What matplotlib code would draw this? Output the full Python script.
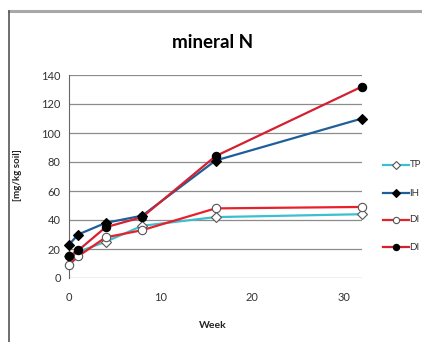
import numpy as np
from matplotlib import pyplot as plt
from matplotlib.lines import Line2D

weeks = [0, 1, 4, 8, 16, 32]
tp = [15, 18, 25, 36, 42, 44]
ih = [23, 30, 38, 43, 81, 110]
di_open = [9, 15, 28, 33, 48, 49]
di_fill = [15, 19, 35, 42, 84, 132]
labels = ['TP', 'IH', 'DI', 'DI']

plt.rcParams['font.family'] = ['Lato', 'DejaVu Sans']

fig = plt.figure(figsize=(4.22, 3.42), dpi=100)
ax = fig.add_axes([69/422, 1-278/342, 293/422, 203/342])

# screenshot frame
fig.add_artist(Line2D([9/422, 1], [1-11/342, 1-11/342], color='#a8a8a8', lw=2.2))
fig.add_artist(Line2D([9/422, 9/422], [0, 1-11/342], color='#555555', lw=1.2))

series = [
  (tp, '#3cc0d0', 'D', 'white'),
  (ih, '#1f5f99', 'D', 'black'),
  (di_open, '#e8202a', 'o', 'white'),
  (di_fill, '#d42030', 'o', 'black'),
]
for (vals, col, mk, fc) in series:
  ax.plot(weeks, vals, color=col, lw=1.6, marker=mk, markersize=6 if mk == 'o' else 5.5,
          markerfacecolor=fc, markeredgecolor='black' if fc == 'black' else '#555555',
          markeredgewidth=0.8, clip_on=False, zorder=3)

ax.set_xlim(0, 32)
ax.set_ylim(0, 140)
ax.set_xticks([0, 10, 20, 30])
ax.set_yticks(np.arange(0, 141, 20))
ax.grid(axis='y', color='#8c8c8c', lw=0.9)
ax.set_axisbelow(True)
for s in ['top', 'right', 'bottom']:
  ax.spines[s].set_visible(False)
ax.spines['left'].set_color('#666666')
ax.tick_params(length=0, labelsize=8, labelcolor='#333333', pad=6)
ax.tick_params(axis='x', pad=10)

fig.text(213/422, 1-42/342, 'mineral N', ha='center', va='center', fontsize=13.5, fontweight='bold')
fig.text(17/422, 1-175/342, '[mg/kg soil]', ha='center', va='center', rotation=90,
         fontsize=7, fontweight='bold', color='#222222')
fig.text(213/422, 1-325/342, 'Week', ha='center', va='center', fontsize=7.5,
         fontweight='bold', color='#222222')

# legend at the right edge
leg_y = [165, 193, 220, 247]
for (vals, col, mk, fc), lab, yy in zip(series, labels, leg_y):
  y = 1 - yy/342
  fig.add_artist(Line2D([383/422, 409/422], [y, y], color=col, lw=1.6))
  fig.add_artist(Line2D([396/422], [y], marker=mk, markersize=4.5, color=col,
                        markerfacecolor=fc, markeredgecolor='black' if fc == 'black' else '#555555',
                        markeredgewidth=0.8))
  fig.text(409.5/422, y, lab, ha='left', va='center', fontsize=7, color='#333333')

fig.savefig('out.png', dpi=100)
